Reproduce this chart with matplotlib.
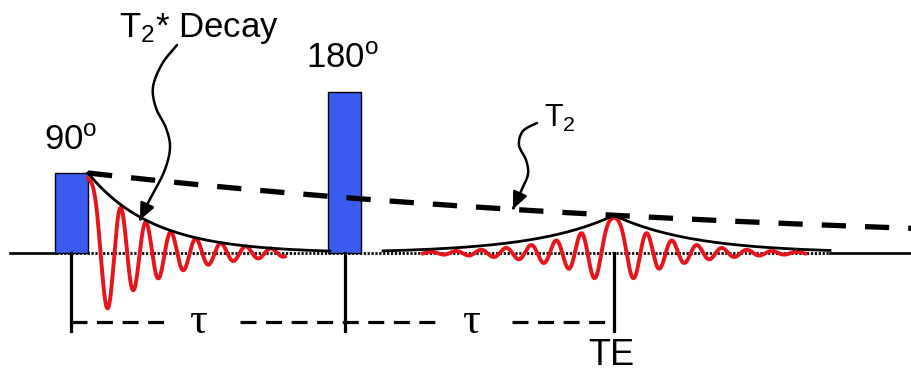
import matplotlib.pyplot as plt
import numpy as np
from matplotlib.patches import Rectangle, FancyArrowPatch
from matplotlib.path import Path

plt.rcParams['font.family'] = ['Liberation Sans', 'DejaVu Sans']
plt.rcParams['mathtext.fontset'] = 'custom'
plt.rcParams['mathtext.rm'] = 'Liberation Sans'
plt.rcParams['mathtext.it'] = 'Liberation Sans:italic'

# pulse sequence (pixel units of the diagram)
baseline = 253
pulse_left = [55, 328]
pulse_width = [33, 33]
pulse_height = [80, 161]
pulse_labels = ['90$^{\\rm o}$', '180$^{\\rm o}$']
pulse_label_pos = [(44, 150), (306, 68)]

t90 = 88          # end of 90 pulse, start of FID
te = 614          # echo time
tick_x = [71, 345, 614]
t2 = 700          # T2 decay constant
t2_amp = 80
t2star = 65       # T2* decay constant
fid_amp = 75
echo_amp = 36
echo_decay = 55
period = 25
chirp = 8

# hand-drawn curly arrows (points along the stroke)
arrow_t2star = [(177, 45), (162, 64), (153, 87), (156, 108), (166, 128),
                (170, 148), (164, 172), (149, 201), (140, 220)]
arrow_t2 = [(537, 123), (523, 131), (519, 145), (526, 160), (528, 174),
            (522, 189), (513, 209)]


def phase(t):
    t = np.abs(t)
    return 2 * np.pi * (t - chirp * (1 - np.exp(-t / chirp))) / period


def smooth(pts, n=20):
    p = np.array(pts, dtype=float)
    p = np.vstack([p[0], p, p[-1]])
    out = []
    for i in range(1, len(p) - 2):
        p0, p1, p2, p3 = p[i - 1], p[i], p[i + 1], p[i + 2]
        for s in np.linspace(0, 1, n, endpoint=False):
            out.append(0.5 * (2 * p1 + (-p0 + p2) * s
                              + (2 * p0 - 5 * p1 + 4 * p2 - p3) * s ** 2
                              + (-p0 + 3 * p1 - 3 * p2 + p3) * s ** 3))
    out.append(p[-2])
    return np.array(out)


def main():
    fig = plt.figure(figsize=(9.12, 3.72), dpi=100)
    ax = fig.add_axes([0, 0, 1, 1])
    ax.set_xlim(0, 912)
    ax.set_ylim(372, 0)
    ax.axis('off')

    # baseline
    ax.plot([10, 56], [baseline, baseline], color='black', lw=1.9, zorder=2)
    ax.plot([830, 912], [baseline, baseline], color='black', lw=1.9, zorder=2)
    ax.plot([56, 830], [baseline, baseline], color='black', lw=2.0,
            linestyle=(0, (0.8, 0.6)), zorder=2)

    # RF pulses
    for left, w, h in zip(pulse_left, pulse_width, pulse_height):
        ax.add_patch(Rectangle((left, baseline - h), w, h, facecolor='#3a5cf0',
                               edgecolor='black', lw=1.0, zorder=3))
    for lab, (x, y) in zip(pulse_labels, pulse_label_pos):
        ax.text(x, y, lab, fontsize=25, ha='left', va='baseline')

    # T2 decay line
    x = np.linspace(t90, 912, 400)
    ax.plot(x, baseline - t2_amp * np.exp(-(x - t90) / t2), color='black', lw=3.8,
            dashes=(4.6, 3.6), zorder=5)

    # FID: envelope and signal
    x = np.linspace(t90, 330, 400)
    ax.plot(x, baseline - t2_amp * np.exp(-(x - t90) / t2star), color='black', lw=2.0, zorder=4)
    x = np.linspace(t90, 285, 800)
    ax.plot(x, baseline - fid_amp * np.exp(-(x - t90) / t2star) * np.cos(phase(x - t90)),
            color='#e8141c', lw=2.8, zorder=3)

    # echo
    peak = t2_amp * np.exp(-(te - t90) / t2)
    x = np.linspace(383, 830, 600)
    ax.plot(x, baseline - peak * np.exp(-np.abs(x - te) / 80), color='black', lw=2.0, zorder=4)
    x = np.linspace(423, 805, 1200)
    ax.plot(x, baseline - echo_amp * np.exp(-np.abs(x - te) / echo_decay) * np.cos(phase(x - te)),
            color='#e8141c', lw=2.8, zorder=3)

    # timing marks
    for xt in tick_x:
        ax.plot([xt, xt], [baseline, 331], color='black', lw=2.3, zorder=4)
    for x0, x1 in [(71, 167), (240, 442), (512, 614)]:
        ax.plot([x0, x1], [322, 322], color='black', lw=2.3, dashes=(5, 3), zorder=4)
    for xt in [198, 471]:
        ax.text(xt, 333, '\u03c4', fontsize=32, family='Liberation Serif',
                ha='center', va='baseline')
    ax.text(588, 365, 'TE', fontsize=26, ha='left', va='baseline')

    # labels with curly arrows
    ax.text(119, 37, 'T$_2$* Decay', fontsize=25, ha='left', va='baseline')
    ax.text(544, 127, 'T$_2$', fontsize=22, ha='left', va='baseline')

    for pts in [arrow_t2star, arrow_t2]:
        verts = smooth(pts)
        path = Path(verts, [Path.MOVETO] + [Path.LINETO] * (len(verts) - 1))
        ax.add_patch(FancyArrowPatch(path=path, arrowstyle='-|>,head_length=10,head_width=4.5',
                                     color='black', lw=1.8, zorder=6))

    fig.savefig('out.png', dpi=100)


if __name__ == '__main__':
    main()
